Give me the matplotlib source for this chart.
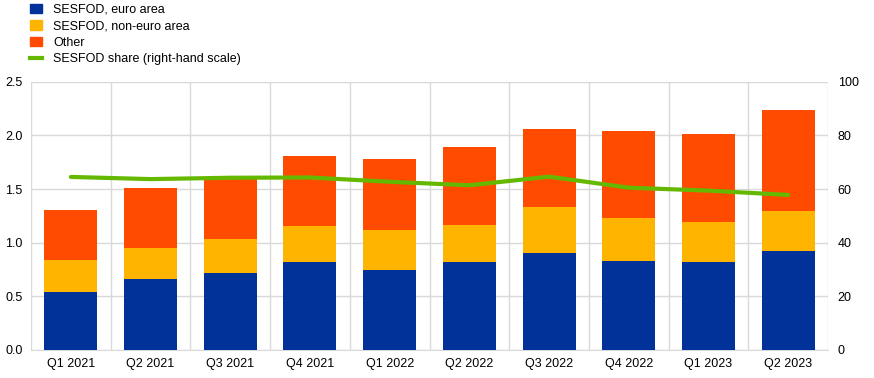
import matplotlib.pyplot as plt
import numpy as np
from matplotlib.patches import Patch
from matplotlib.lines import Line2D

plt.rcParams['font.family'] = ['Liberation Sans', 'DejaVu Sans']
plt.rcParams['font.size'] = 9

# donnees
quarters = ['Q1 2021', 'Q2 2021', 'Q3 2021', 'Q4 2021', 'Q1 2022',
            'Q2 2022', 'Q3 2022', 'Q4 2022', 'Q1 2023', 'Q2 2023']
euro_area = [0.54, 0.66, 0.715, 0.82, 0.75, 0.82, 0.905, 0.83, 0.82, 0.92]
non_euro_area = [0.30, 0.295, 0.32, 0.34, 0.365, 0.345, 0.43, 0.40, 0.375, 0.375]
other = [0.465, 0.55, 0.565, 0.65, 0.665, 0.73, 0.725, 0.81, 0.82, 0.94]
sesfod_share = [64.5, 63.7, 64.2, 64.3, 62.7, 61.4, 64.6, 60.5, 59.4, 57.8]

c_blue = '#003299'
c_yellow = '#FFB400'
c_orange = '#FF4B00'
c_green = '#65B800'

fig = plt.figure(figsize=(8.74, 3.78), dpi=100)
ax = fig.add_axes([31/874, 28/378, (828-31)/874, (350-81.7)/378])
x = np.arange(len(quarters))
e = np.array(euro_area)
n = np.array(non_euro_area)
o = np.array(other)

w = 0.665
ax.bar(x, e, w, color=c_blue, zorder=3)
ax.bar(x, n, w, bottom=e, color=c_yellow, zorder=3)
ax.bar(x, o, w, bottom=e + n, color=c_orange, zorder=3)

ax.set_xlim(-0.5, len(quarters) - 0.5)
ax.set_ylim(0, 2.5)
ax.set_yticks(np.arange(0, 2.51, 0.5))
ax.set_yticklabels(['%.1f' % v for v in np.arange(0, 2.51, 0.5)])
ax.set_xticks(x)
ax.set_xticklabels(quarters)
ax.set_xticks(np.arange(-0.5, len(quarters)), minor=True)
ax.tick_params(axis='x', which='both', length=0, pad=6)
ax.tick_params(axis='y', length=0, pad=6)
ax.grid(axis='y', color='#d9d9d9', linewidth=1, zorder=0)
ax.grid(axis='x', which='minor', color='#d9d9d9', linewidth=1, zorder=0)
for s in ['top', 'left', 'right']:
    ax.spines[s].set_visible(False)
ax.spines['bottom'].set_color('#d9d9d9')

ax2 = ax.twinx()
ax2.plot(x, sesfod_share, color=c_green, linewidth=3, solid_capstyle='round', zorder=4)
ax2.set_ylim(0, 100)
ax2.set_yticks(np.arange(0, 101, 20))
ax2.tick_params(axis='y', length=0, pad=7)
for s in ['top', 'left', 'right', 'bottom']:
    ax2.spines[s].set_visible(False)

handles = [Patch(color=c_blue), Patch(color=c_yellow), Patch(color=c_orange),
           Line2D([0], [0], color=c_green, linewidth=3)]
labels = ['SESFOD, euro area', 'SESFOD, non-euro area', 'Other',
          'SESFOD share (right-hand scale)']
fig.legend(handles, labels, loc='upper left', bbox_to_anchor=(0.022, 1.02),
           frameon=False, handlelength=0.9, handleheight=0.8, handletextpad=0.9,
           labelspacing=0.35, fontsize=9)

fig.savefig('out.png', dpi=100)
